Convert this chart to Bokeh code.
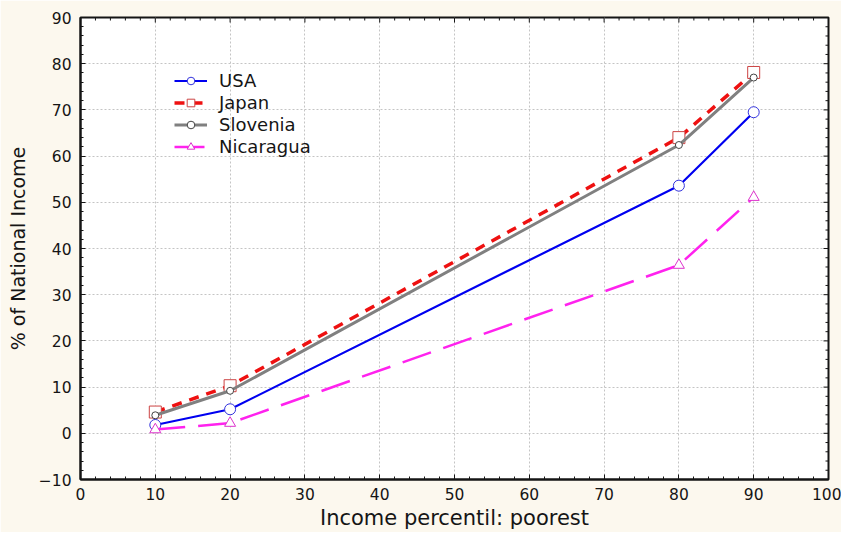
import math
from bokeh.plotting import figure
from bokeh.embed import file_html
from bokeh.resources import INLINE
from bokeh.models import Legend, LegendItem, FixedTicker, Range1d

percentiles = [10, 20, 80, 90]
usa = [1.8, 5.2, 53.6, 69.5]
japan = [4.6, 10.3, 64.0, 78.1]
slovenia = [3.9, 9.2, 62.4, 77.0]
nicaragua = [0.8, 2.2, 36.4, 51.1]

x_ticks = [0, 10, 20, 30, 40, 50, 60, 70, 80, 90, 100]
y_ticks = [-10, 0, 10, 20, 30, 40, 50, 60, 70, 80, 90]
x_minor = [x for x in range(0, 101, 2) if x % 10]
y_minor = [y for y in range(-10, 91, 2) if y % 10]

FONT = "DejaVu Sans"
INK = "#151515"

p = figure(width=841, height=532, output_backend="svg", toolbar_location=None,
           x_range=Range1d(x_ticks[0], x_ticks[-1]), y_range=Range1d(y_ticks[0], y_ticks[-1]),
           background_fill_color="white", border_fill_color="#fcf8ee",
           min_border_left=80, min_border_right=13, min_border_top=17, min_border_bottom=51)

p.outline_line_color = INK
p.outline_line_width = 2

p.xgrid.ticker = FixedTicker(ticks=x_ticks)
p.ygrid.ticker = FixedTicker(ticks=y_ticks)
for g in (p.xgrid, p.ygrid):
    g.grid_line_color = "#c4c4c4"
    g.grid_line_dash = "2 2"
    g.grid_line_width = 1

p.xaxis[0].ticker = FixedTicker(ticks=x_ticks, minor_ticks=x_minor)
p.yaxis[0].ticker = FixedTicker(ticks=y_ticks, minor_ticks=y_minor)
for ax in (p.xaxis[0], p.yaxis[0]):
    ax.axis_line_color = INK
    ax.axis_line_width = 2
    ax.major_tick_in = 5
    ax.major_tick_out = 0
    ax.minor_tick_in = 3
    ax.minor_tick_out = 0
    ax.major_tick_line_color = INK
    ax.minor_tick_line_color = INK
    ax.major_label_text_font = FONT
    ax.major_label_text_font_size = "15.5px"
    ax.major_label_text_color = INK
    ax.axis_label_text_font = FONT
    ax.axis_label_text_font_style = "normal"
    ax.axis_label_text_color = INK

p.xaxis[0].major_label_standoff = 8
p.yaxis[0].major_label_standoff = 9
p.xaxis[0].axis_label = "Income percentil: poorest"
p.xaxis[0].axis_label_text_font_size = "21px"
p.xaxis[0].axis_label_standoff = 3
p.yaxis[0].axis_label = "% of National Income"
p.yaxis[0].axis_label_text_font_size = "19px"
p.yaxis[0].axis_label_standoff = 7

# inward ticks on the top and right edges of the frame
p.ray(x=x_ticks, y=y_ticks[-1], length=5, angle=-math.pi / 2, length_units="screen",
      line_color=INK, line_width=1)
p.ray(x=x_minor, y=y_ticks[-1], length=3, angle=-math.pi / 2, length_units="screen",
      line_color=INK, line_width=1)
p.ray(x=x_ticks[-1], y=y_ticks, length=5, angle=math.pi, length_units="screen",
      line_color=INK, line_width=1)
p.ray(x=x_ticks[-1], y=y_minor, length=3, angle=math.pi, length_units="screen",
      line_color=INK, line_width=1)

l_usa = p.line(percentiles, usa, line_color="#0000f0", line_width=2.2)
m_usa = p.scatter(percentiles, usa, marker="circle", size=11, fill_color="white",
                  line_color="#3333dd", line_width=1)
l_jpn = p.line(percentiles, japan, line_color="#ee1111", line_width=3.5, line_dash="10 8")
m_jpn = p.scatter(percentiles, japan, marker="square", size=12, fill_color="white",
                  line_color="#cc4444", line_width=1)
l_slo = p.line(percentiles, slovenia, line_color="#808080", line_width=3)
m_slo = p.scatter(percentiles, slovenia, marker="circle", size=7, fill_color="white",
                  line_color="#444444", line_width=1)
l_nic = p.line(percentiles, nicaragua, line_color="#ff22ee", line_width=2.5, line_dash="30 13")
m_nic = p.scatter(percentiles, nicaragua, marker="triangle", size=11, fill_color="white",
                  line_color="#dd33cc", line_width=1)

legend = Legend(items=[
    LegendItem(label="USA", renderers=[l_usa, m_usa]),
    LegendItem(label="Japan", renderers=[l_jpn, m_jpn]),
    LegendItem(label="Slovenia", renderers=[l_slo, m_slo]),
    LegendItem(label="Nicaragua", renderers=[l_nic, m_nic]),
], location=(90, 318))
legend.background_fill_alpha = 0
legend.border_line_alpha = 0
legend.label_text_font = FONT
legend.label_text_font_size = "18px"
legend.label_text_color = INK
legend.label_height = 19
legend.glyph_width = 33
legend.glyph_height = 19
legend.spacing = 1
legend.label_standoff = 12
legend.padding = 4
p.add_layout(legend, "center")

open("out.html", "w").write(file_html(p, INLINE))
